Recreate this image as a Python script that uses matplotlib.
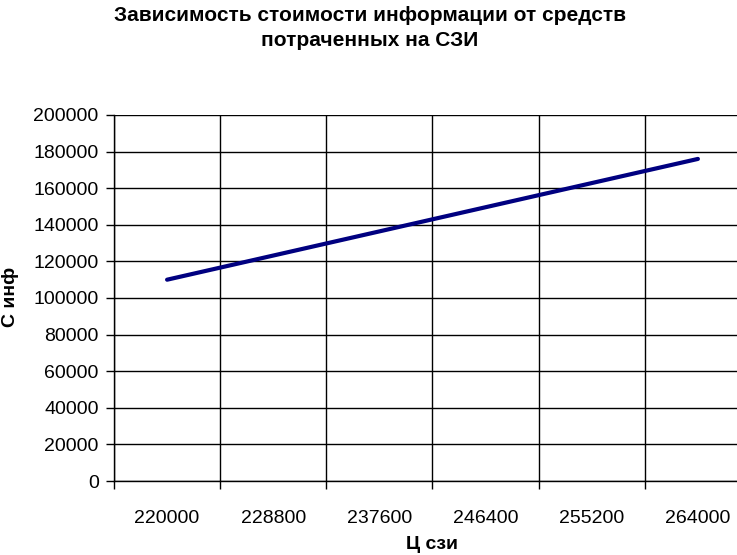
import numpy as np
import matplotlib.pyplot as plt

# Данные графика
categories = ["220000", "228800", "237600", "246400", "255200", "264000"]
c_inf = [110000, 123200, 136400, 149600, 162800, 176000]
y_ticks = [0, 20000, 40000, 60000, 80000, 100000, 120000, 140000, 160000, 180000, 200000]

plt.rcParams['font.family'] = ['Liberation Sans', 'DejaVu Sans']

fig = plt.figure(figsize=(7.37, 5.55), dpi=100)
# зона графика выходит за правый край, как в оригинале
ax = fig.add_axes([114/737, 1 - 481/555, 637/737, 366/555])

x = np.arange(len(categories))
ax.plot(x, c_inf, color='#000080', linewidth=3, solid_capstyle='round')

ax.set_xlim(-0.5, len(categories) - 0.5)
ax.set_ylim(0, 200000)
ax.set_yticks(y_ticks)
ax.set_yticklabels([str(v) for v in y_ticks], fontsize=14)

# сетка по границам категорий
ax.set_xticks(np.arange(len(categories) + 1) - 0.5)
ax.set_xticklabels([])
ax.set_xticks(x, minor=True)
ax.set_xticklabels(categories, minor=True, fontsize=14)
ax.tick_params(axis='x', which='minor', length=0, pad=21)
ax.tick_params(axis='x', which='major', length=6, width=1, color='black', direction='out')
ax.tick_params(axis='y', length=6, width=1, direction='out', pad=5)

ax.grid(True, which='major', color='black', linewidth=1)
ax.set_axisbelow(True)
for side in ['top', 'right']:
    ax.spines[side].set_visible(False)
for side in ['left', 'bottom']:
    ax.spines[side].set_linewidth(1)

ax.set_xlabel("Ц сзи", fontsize=14, fontweight='bold')
ax.set_ylabel("С инф", fontsize=14, fontweight='bold')
ax.xaxis.set_label_coords((432 - 114) / 637, -(536 - 481) / 366)
ax.yaxis.set_label_coords(-(114 - 19) / 637, (481 - 297) / 366)

fig.text(370/737, 1 - 28/555, "Зависимость стоимости информации от средств\nпотраченных на СЗИ",
         ha='center', va='center', fontsize=15, fontweight='bold', linespacing=1.45)

fig.savefig("out.png", dpi=100)
